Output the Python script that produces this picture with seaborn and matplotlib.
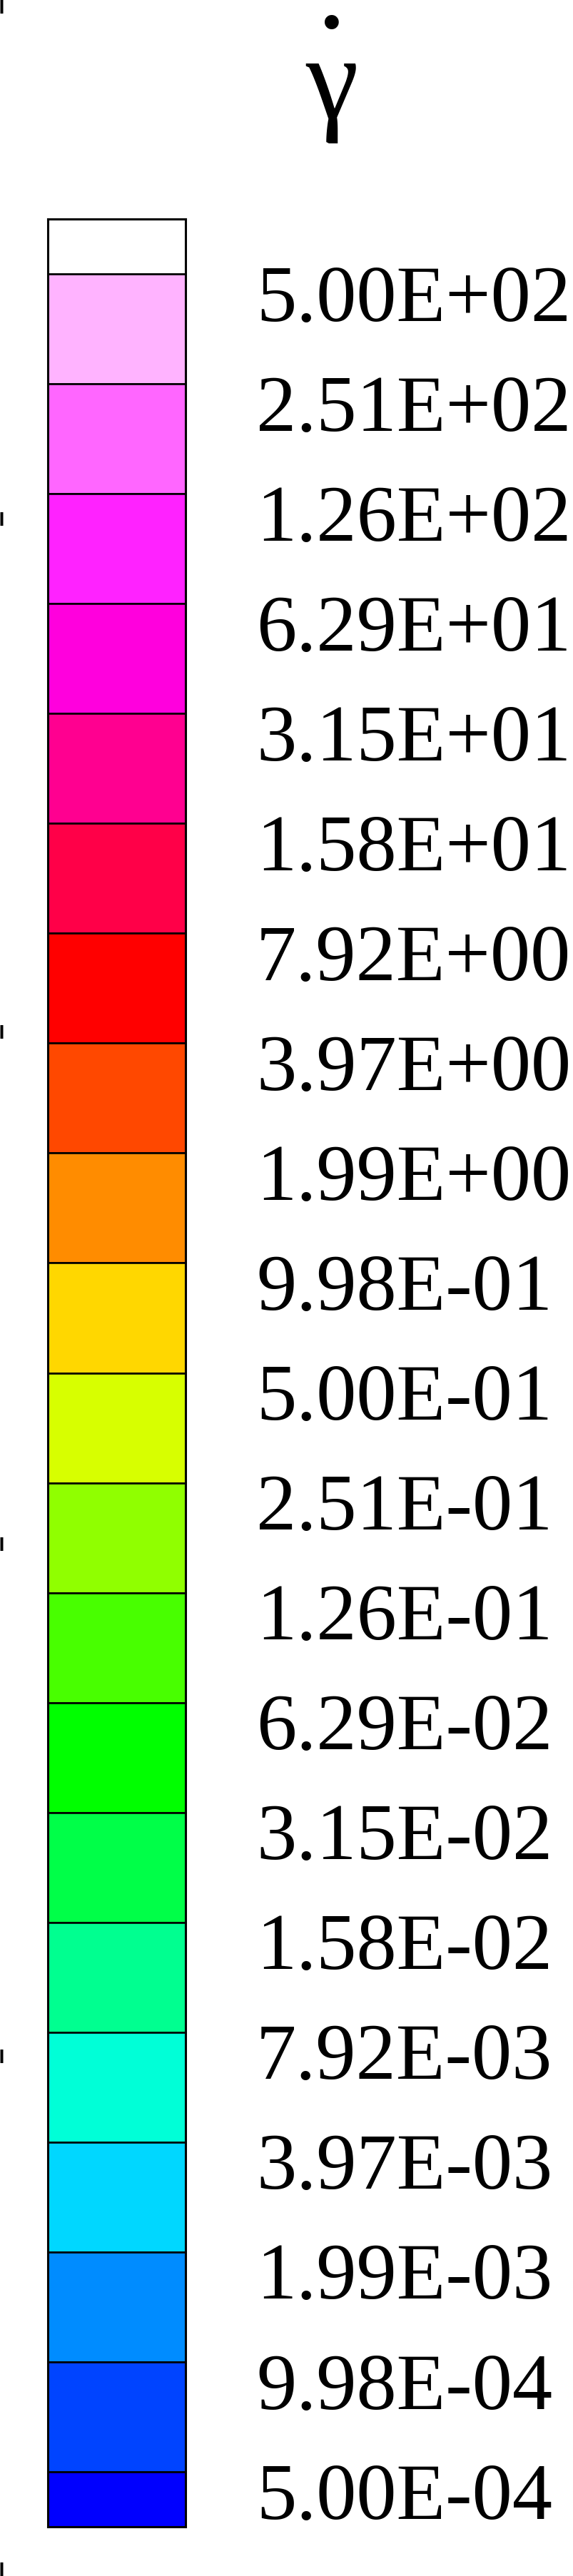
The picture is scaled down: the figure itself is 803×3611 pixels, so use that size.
import numpy as np
import matplotlib
matplotlib.use("Agg")
import matplotlib.pyplot as plt
import seaborn as sns

###################################################################
# data (top to bottom)
###################################################################

band_colors = ['#ffffff', '#ffb3ff', '#ff66ff', '#ff22ff', '#ff00dd', '#ff0090',
               '#ff0048', '#ff0000', '#ff4800', '#ff8c00', '#ffd700', '#d7ff00',
               '#90ff00', '#48ff00', '#00ff00', '#00ff48', '#00ff90', '#00ffd7',
               '#00d7ff', '#008cff', '#0044ff', '#0000ff']
level_labels = ['5.00E+02', '2.51E+02', '1.26E+02', '6.29E+01', '3.15E+01', '1.58E+01',
                '7.92E+00', '3.97E+00', '1.99E+00', '9.98E-01', '5.00E-01', '2.51E-01',
                '1.26E-01', '6.29E-02', '3.15E-02', '1.58E-02', '7.92E-03', '3.97E-03',
                '1.99E-03', '9.98E-04', '5.00E-04']
# end bands are drawn half height
band_heights = [0.5] + [1.0] * (len(band_colors) - 2) + [0.5]
# stray tick marks along the left edge (pixel rows)
edge_ticks = [10, 728, 1447, 2165, 2883, 3602]

###################################################################
# setup
###################################################################

sns.set_theme(style='white')
plt.rcParams['font.family'] = ['Liberation Serif', 'DejaVu Serif']

W, H = 804, 3612
fig = plt.figure(figsize=(W / 100, H / 100), dpi=100)
fig.patch.set_facecolor('white')

# background axes only for the edge ticks
ax0 = fig.add_axes([0, 0, 1, 1])
ax0.set_ylim(H, 0)
ax0.set_xlim(0, W)
ax0.patch.set_visible(False)
for s in ax0.spines.values():
    s.set_visible(False)
ax0.set_xticks([])
ax0.set_yticks(edge_ticks)
ax0.tick_params(axis='y', direction='in', length=2.9, width=13.7, colors='black',
                left=True, labelleft=False)

###################################################################
# colour bar
###################################################################

ax = fig.add_axes([67 / W, 1 - 3543 / H, 193 / W, 3235 / H])
bottoms = np.concatenate([[0], np.cumsum(band_heights)[:-1]])
ax.bar(np.zeros(len(band_colors)), band_heights, bottom=bottoms, width=1.0,
       color=band_colors, edgecolor='black', linewidth=1.9, align='center')
ax.set_xlim(-0.5, 0.5)
ax.set_ylim(0, sum(band_heights))
ax.invert_yaxis()
ax.set_xticks([])
ax.set_yticks([])
for s in ax.spines.values():
    s.set_visible(True)
    s.set_color('black')
    s.set_linewidth(2.2)

boundaries = np.cumsum(band_heights)[:-1]
for yb, lab in zip(boundaries, level_labels):
    ax.annotate(lab, xy=(1, yb), xycoords=('axes fraction', 'data'),
                xytext=(71.3, -46.5), textcoords='offset points',
                ha='left', va='baseline', fontsize=81, color='black')

###################################################################
# title: gamma dot (one text, dot on the line above)
###################################################################

fig.text(465 / W, 1 - 165 / H, '.\nγ', ha='center', va='baseline', ma='center',
         linespacing=0.77, fontsize=120, color='black')

fig.savefig('out.png', dpi=100, facecolor='white')
